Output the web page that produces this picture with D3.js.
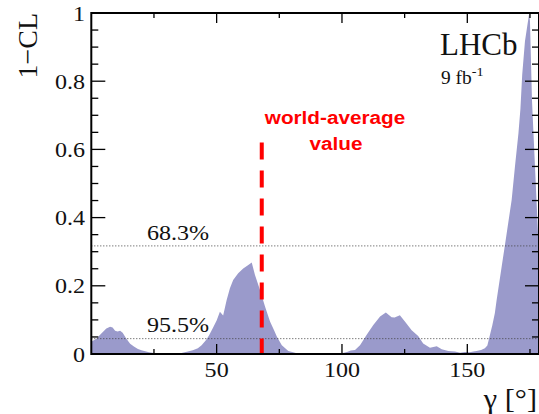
<!DOCTYPE html>
<html>
<head>
<meta charset="utf-8">
<script src="https://cdn.jsdelivr.net/npm/d3@7"></script>
<style>
  html, body { margin: 0; padding: 0; background: #ffffff; }
  svg { display: block; }
</style>
</head>
<body>
<svg id="chart" width="539" height="414"></svg>
<script>
// gamma scan: angle in degrees and the corresponding 1-CL value
const gammaDeg = [
  0, 2, 4, 6, 7.5, 8.5, 9.5, 10.5, 11.5, 12.5, 14, 15.5, 17, 18.6, 20, 21.5, 23, 25, 28, 32,
  36, 38.5, 40.5, 42.5, 44, 45.8, 47, 48.6, 50, 51.3, 52.6, 54, 55.3, 56.6, 58.6, 60.6, 62.5, 64,
  65.3, 67.3, 69.3, 71.3, 73, 74, 76, 78.6, 82, 86, 90, 95, 100, 102, 103.5, 105.2, 107.2,
  109.8, 112.5, 115.2, 117.5, 119.8, 121, 123.1, 125.1, 127.8, 130.4, 132.4, 135.1, 137.8,
  139.8, 142.4, 145.1, 147.1, 149, 151, 152.4, 153.7, 155.5, 157, 158, 159, 160, 161, 161.7,
  163.7, 165, 167.7, 169, 170.4, 171.2, 171.9, 173, 174.7, 175, 175.8, 176.3, 177, 178.2, 178.6
];
const oneMinusCL = [
  0.036, 0.045, 0.060, 0.075, 0.080, 0.078, 0.068, 0.066, 0.068, 0.062, 0.045, 0.030, 0.022, 0.015, 0.011, 0.008, 0.005, 0.003, 0.002, 0.002,
  0.003, 0.007, 0.011, 0.017, 0.026, 0.041, 0.055, 0.078, 0.098, 0.124, 0.113, 0.158, 0.193, 0.217, 0.237, 0.251, 0.260, 0.268,
  0.232, 0.188, 0.139, 0.095, 0.068, 0.051, 0.026, 0.009, 0.002, 0.001, 0.001, 0.001, 0.002, 0.006, 0.010, 0.012, 0.026,
  0.056, 0.085, 0.110, 0.122, 0.108, 0.107, 0.114, 0.095, 0.070, 0.053, 0.031, 0.018, 0.023,
  0.014, 0.009, 0.007, 0.004, 0.006, 0.005, 0.007, 0.009, 0.012, 0.017, 0.025, 0.055, 0.085, 0.120, 0.158,
  0.256, 0.319, 0.452, 0.549, 0.647, 0.720, 0.819, 0.917, 1.000, 0.976, 0.745, 0.663, 0.549, 0.355, 0.330
];

// confidence-level reference lines
const clValues = [0.317, 0.045];
const clLabels = ["68.3%", "95.5%"];

// world-average marker
const worldAverage = 68;
const worldAverageTop = 0.62;
const worldAverageLabel = ["world-average", "value"];

// axis ticks
const xMajorTicks = [50, 100, 150];
const xMinorTicks = [25, 75, 125, 175];
const yMajorTicks = [0, 0.2, 0.4, 0.6, 0.8, 1];
const yMinorTicks = d3.range(0, 1.0001, 0.05).filter(v => Math.abs(v * 5 - Math.round(v * 5)) > 1e-6);
const yTickLabels = ["0", "0.2", "0.4", "0.6", "0.8", "1"];

const xDomain = [0, 178.6];
const yDomain = [0, 1];

const svg = d3.select("#chart");
const serif = "'Liberation Serif', 'Times New Roman', serif";
const sans = "'Liberation Sans', Arial, sans-serif";
const stretch = 1.12;

const x = d3.scaleLinear().domain(xDomain).range([91.3, 539]);
const y = d3.scaleLinear().domain(yDomain).range([354, 13]);

const data = gammaDeg.map((g, i) => ({ g, v: oneMinusCL[i] }));

// filled 1-CL curve
const area = d3.area()
  .x(d => x(d.g))
  .y0(y(0))
  .y1(d => y(d.v));

svg.append("path")
  .datum(data)
  .attr("d", area)
  .attr("fill", "#9a9acb")
  .attr("stroke", "none");

// dotted CL lines
svg.selectAll("line.cl")
  .data(clValues)
  .join("line")
  .attr("class", "cl")
  .attr("x1", x(xDomain[0]))
  .attr("x2", x(xDomain[1]))
  .attr("y1", d => y(d))
  .attr("y2", d => y(d))
  .attr("stroke", "#444")
  .attr("stroke-width", 1)
  .attr("stroke-dasharray", "1,2");

// helper for horizontally widened text
function label(txt, px, py, size, family, anchor, opts = {}) {
  const t = svg.append("text")
    .attr("transform", `translate(${px},${py}) scale(${opts.sx || stretch},1)`)
    .attr("font-family", family)
    .attr("font-size", size)
    .attr("text-anchor", anchor)
    .attr("fill", opts.fill || "#111")
    .attr("font-weight", opts.weight || "normal")
    .text(txt);
  return t;
}

label(clLabels[0], 147, 240, 21.5, serif, "start");
label(clLabels[1], 147, 332, 21.5, serif, "start");

// world-average dashed marker
svg.append("line")
  .attr("x1", x(worldAverage))
  .attr("x2", x(worldAverage))
  .attr("y1", y(worldAverageTop))
  .attr("y2", y(0))
  .attr("stroke", "#ff0000")
  .attr("stroke-width", 4)
  .attr("stroke-dasharray", "17,11");

label(worldAverageLabel[0], 335, 124, 18.5, sans, "middle", { fill: "#ff0000", weight: "bold" });
label(worldAverageLabel[1], 336, 149.5, 18.5, sans, "middle", { fill: "#ff0000", weight: "bold" });

// frame and ticks
const axisG = svg.append("g").attr("stroke", "#000");
const x0 = x(xDomain[0]), x1 = x(xDomain[1]), yb = y(0), yt = y(1);

axisG.append("rect")
  .attr("x", x0).attr("y", yt)
  .attr("width", x1 - x0).attr("height", yb - yt)
  .attr("fill", "none").attr("stroke-width", 2);

// bottom and top ticks
xMajorTicks.forEach(v => {
  axisG.append("line").attr("x1", x(v)).attr("x2", x(v)).attr("y1", yb).attr("y2", yb - 10).attr("stroke-width", 1.3);
  axisG.append("line").attr("x1", x(v)).attr("x2", x(v)).attr("y1", yt).attr("y2", yt + 10).attr("stroke-width", 1.3);
});
xMinorTicks.forEach(v => {
  axisG.append("line").attr("x1", x(v)).attr("x2", x(v)).attr("y1", yb).attr("y2", yb - 5).attr("stroke-width", 1.3);
  axisG.append("line").attr("x1", x(v)).attr("x2", x(v)).attr("y1", yt).attr("y2", yt + 5).attr("stroke-width", 1.3);
});
// left and right ticks
yMajorTicks.forEach(v => {
  axisG.append("line").attr("x1", x0).attr("x2", x0 + 14).attr("y1", y(v)).attr("y2", y(v)).attr("stroke-width", 1.3);
  axisG.append("line").attr("x1", x1).attr("x2", x1 - 14).attr("y1", y(v)).attr("y2", y(v)).attr("stroke-width", 1.3);
});
yMinorTicks.forEach(v => {
  axisG.append("line").attr("x1", x0).attr("x2", x0 + 7).attr("y1", y(v)).attr("y2", y(v)).attr("stroke-width", 1.3);
  axisG.append("line").attr("x1", x1).attr("x2", x1 - 7).attr("y1", y(v)).attr("y2", y(v)).attr("stroke-width", 1.3);
});

// tick labels
yMajorTicks.forEach((v, i) => label(yTickLabels[i], 85, y(v) + 7.5, 21.5, serif, "end"));
xMajorTicks.forEach(v => label(String(v), x(v), 377, 21.5, serif, "middle"));

// axis titles
svg.append("text")
  .attr("transform", `translate(37,13) rotate(-90)`)
  .attr("font-family", serif)
  .attr("font-size", 28)
  .attr("text-anchor", "end")
  .attr("fill", "#111")
  .text("1\u2212CL");

label("\u03b3 [\u00b0]", 537, 408, 27, serif, "end");

// experiment label
label("LHCb", 440, 55, 31, serif, "start", { sx: 1 });
const lumi = label("9 fb", 441, 84, 18.5, serif, "start", { sx: 1.05 });
lumi.append("tspan").attr("font-size", 13.5).attr("dy", -8).text("-1");
</script>
</body>
</html>
